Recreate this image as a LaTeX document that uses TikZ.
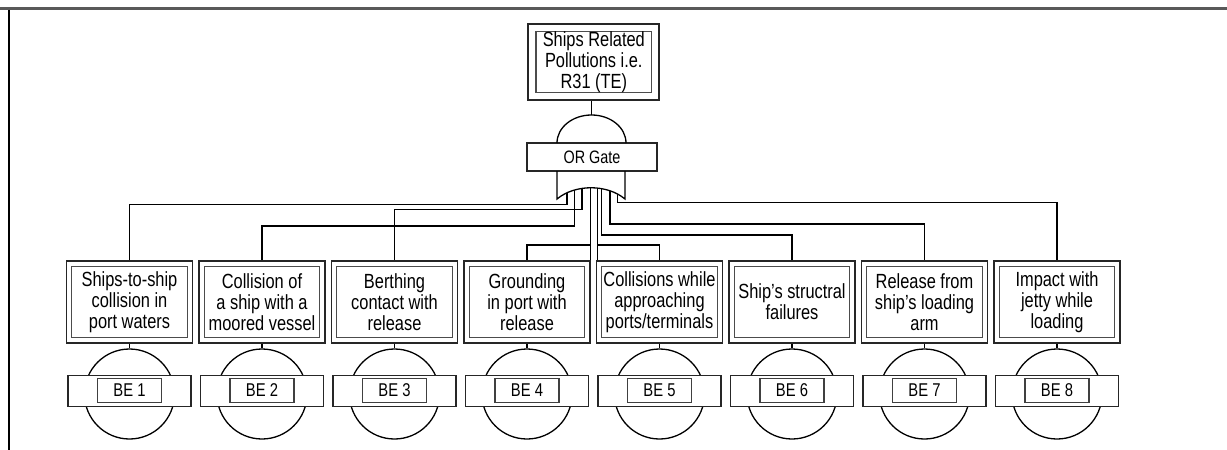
\documentclass[tikz,border=0pt]{standalone}
\usepackage{fontspec}
\setmainfont{Liberation Sans}[FakeStretch=0.8]
\begin{document}
\begin{tikzpicture}[x=1pt,y=-1pt,
  frameout/.style={draw=black!85, line width=1.7pt, minimum width=126pt, minimum height=82pt, inner sep=0pt},
  framein/.style={draw=black!70, line width=1.1pt, minimum width=115.5pt, minimum height=70.5pt, inner sep=0pt, align=center, font=\fontsize{20.5}{21}\selectfont},
  conn/.style={draw=black, line width=1.4pt},
  becirc/.style={circle, draw=black, line width=1.3pt, minimum size=90pt, inner sep=0pt},
  bebar/.style={draw=black!85, fill=white, line width=1.6pt, minimum width=123pt, minimum height=31pt, inner sep=0pt},
  bein/.style={draw=black!75, line width=1.1pt, minimum width=64pt, minimum height=24pt, inner sep=0pt, font=\fontsize{18.5}{20}\selectfont},
  gatebox/.style={draw=black!85, line width=1.6pt, minimum width=130pt, minimum height=28pt, inner sep=0pt, font=\fontsize{18}{19}\selectfont},
  gateline/.style={draw=black, line width=1.3pt}
]
\useasboundingbox (0,0) rectangle (1227,450);
% page frame
\draw[black!65, line width=2.8pt] (0,8.3) -- (1227,8.3);
\draw[black, line width=1.1pt] (9,9.6) -- (9,450);

% top event
\node[frameout, minimum width=131.6pt, minimum height=76pt] (top) at (593.5,62) {};
\node[framein, minimum width=115.7pt, minimum height=60pt] (topin) at (593.8,61.7) {Ships Related\\Pollutions i.e.\\R31 (TE)};

% OR gate
\node[gatebox] (org) at (592,157) {OR Gate};
\coordinate (gA) at (591.5,115);
\draw[gateline] (gA) -- (gA |- top.south);
\draw[gateline] (557,143) .. controls (557,127.5) and (572.4,115) .. (gA)
  .. controls (610.6,115) and (626,127.5) .. (626,143);

% columns
\foreach \i/\t in {
  1/{Ships-to-ship\\collision in\\port waters},
  2/{Collision of\\a ship with a\\moored vessel},
  3/{Berthing\\contact with\\release},
  4/{Grounding\\in port with\\release},
  5/{Collisions while\\approaching\\ports/terminals},
  6/{Ship’s structral\\failures},
  7/{Release from\\ship’s loading\\arm},
  8/{Impact with\\jetty while\\loading}}{
  \pgfmathsetmacro\cx{129.5+132.5*(\i-1)}
  \node[frameout] (e\i) at (\cx,301.7) {};
  \node[framein] (t\i) at (\cx,302) {\t};
  \node[becirc] (c\i) at (\cx,394) {};
  \draw[conn] (e\i.south) -- (c\i.north);
  \node[bebar] (b\i) at (\cx,391) {};
  \node[bein] (be\i) at (\cx,390.5) {BE \i};
}

% connector exits and levels
\coordinate (o1) at (567,182);   \coordinate (l1) at (0,204.3);
\coordinate (o2) at (574.5,182); \coordinate (l2) at (0,226);
\coordinate (o3) at (582,182);   \coordinate (l3) at (0,209.5);
\coordinate (o4) at (590.5,182); \coordinate (l4) at (0,245);
\coordinate (o5) at (597.2,182); \coordinate (l5) at (0,245);
\coordinate (o6) at (601.7,182); \coordinate (l6) at (0,235);
\coordinate (o7) at (610,182);   \coordinate (l7) at (0,224);
\coordinate (o8) at (617.3,182); \coordinate (l8) at (0,202.3);
\foreach \i in {1,...,8}{
  \draw[conn] (o\i) |- (e\i.north |- l\i) -- (e\i.north);
}
\draw[conn] (o4 |- l4) -- (o4 |- e4.north);
\draw[conn] (o5 |- l5) -- (o5 |- e5.north);

% OR gate lower (input) shape drawn over the connector ends
\fill[white] (557,172) -- (557,199) .. controls (575,184) and (607,184) .. (625,199) -- (625,172) -- cycle;
\draw[gateline] (557,171) -- (557,199) .. controls (575,184) and (607,184) .. (625,199) -- (625,171);
\end{tikzpicture}
\end{document}
